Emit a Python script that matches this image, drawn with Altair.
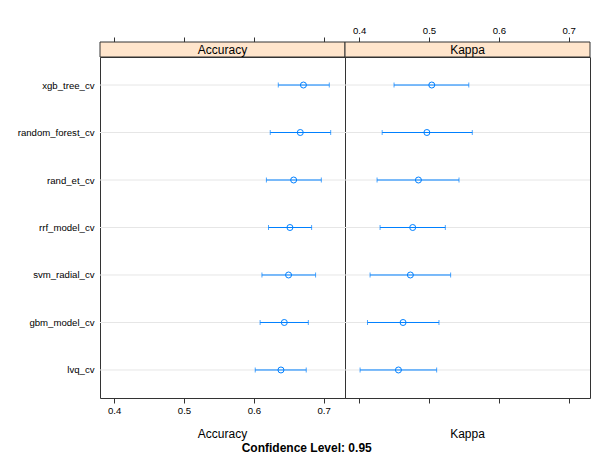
import altair as alt
import pandas as pd

models = ["xgb_tree_cv", "random_forest_cv", "rand_et_cv", "rrf_model_cv",
          "svm_radial_cv", "gbm_model_cv", "lvq_cv"]
metrics = ["Accuracy", "Kappa"]

acc_est = [0.671, 0.6665, 0.657, 0.6517, 0.6497, 0.6436, 0.6388]
acc_lo = [0.635, 0.6235, 0.618, 0.621, 0.6116, 0.609, 0.602]
acc_hi = [0.708, 0.710, 0.6966, 0.6827, 0.6884, 0.678, 0.675]

kap_est = [0.504, 0.497, 0.4849, 0.4767, 0.4734, 0.4629, 0.4563]
kap_lo = [0.450, 0.433, 0.4257, 0.430, 0.4157, 0.412, 0.4014]
kap_hi = [0.557, 0.562, 0.543, 0.5234, 0.531, 0.5143, 0.511]

tick_values = [0.4, 0.5, 0.6, 0.7]
x_domain = [0.3798, 0.7305]
footer = "Confidence Level: 0.95"

W, H = 245, 341
BLUE = "#0080ff"
FONT = "Liberation Sans"
BORDER = "#333333"
one = alt.Data(values=[{"k": 1}])


def panel(metric, est, lo, hi, show_y, bottom_labels, top_labels, footer_text=None):
    df = pd.DataFrame({"model": models, "est": est, "lo": lo, "hi": hi})
    base = alt.Chart(df)
    xs = alt.Scale(domain=x_domain, nice=False, zero=False)
    yaxis = alt.Axis(title=None, ticks=False, domain=False, grid=False,
                     labelPadding=6, labelFontSize=9.6, labelFont=FONT,
                     labelColor="black") if show_y else None
    y_enc = alt.Y("model:N", sort=models,
                  scale=alt.Scale(type="point", padding=0.59), axis=yaxis)
    common = dict(values=tick_values, format=".1f", title=None, grid=False,
                  domain=False, tickSize=5, tickColor=BORDER, labelFontSize=9.6,
                  labelFont=FONT, labelColor="black", labelPadding=2,
                  labelFlush=False)
    bottom_axis = alt.Axis(orient="bottom", labels=bottom_labels, **common)
    top_axis = alt.Axis(orient="top", offset=15, labels=top_labels, **common)

    grid = base.mark_rule(color="#e6e6e6", strokeWidth=1).encode(
        y=y_enc, x=alt.value(0), x2=alt.value(W))
    bar = base.mark_rule(color=BLUE, strokeWidth=1).encode(
        x=alt.X("lo:Q", scale=xs, axis=bottom_axis), x2="hi:Q", y=y_enc)
    cap_lo = base.mark_tick(color=BLUE, size=5, thickness=1).encode(
        x=alt.X("lo:Q", scale=xs, axis=None), y=y_enc)
    cap_hi = base.mark_tick(color=BLUE, size=5, thickness=1).encode(
        x=alt.X("hi:Q", scale=xs, axis=None), y=y_enc)
    pts = base.mark_point(shape="circle", filled=False, color=BLUE, size=36,
                          strokeWidth=1, opacity=1).encode(
        x=alt.X("est:Q", scale=xs, axis=top_axis), y=y_enc)
    strip = alt.Chart(one).mark_rect(fill="#ffe5cc", stroke=BORDER, strokeWidth=1).encode(
        x=alt.value(0), x2=alt.value(W), y=alt.value(-15), y2=alt.value(0))
    strip_txt = alt.Chart(one).mark_text(text=metric, fontSize=12, font=FONT,
                                         baseline="middle", color="black").encode(
        x=alt.value(W / 2), y=alt.value(-7))
    xtitle = alt.Chart(one).mark_text(text=metric, fontSize=12, font=FONT,
                                      baseline="middle", color="black").encode(
        x=alt.value(W / 2), y=alt.value(H + 36))
    layers = [grid, bar, cap_lo, cap_hi, pts, strip, strip_txt, xtitle]
    if footer_text:
        foot = alt.Chart(one).mark_text(text=footer_text, fontSize=12, font=FONT,
                                        fontWeight="bold", baseline="middle",
                                        color="black").encode(
            x=alt.value(206.7), y=alt.value(H + 50))
        layers.append(foot)
    return alt.layer(*layers).resolve_axis(x="independent").properties(width=W, height=H)


left = panel(metrics[0], acc_est, acc_lo, acc_hi, True, True, False, footer)
right = panel(metrics[1], kap_est, kap_lo, kap_hi, False, False, True)

chart = alt.hconcat(left, right, spacing=0, bounds="flush").properties(
    padding={"left": 8, "top": 16, "right": 5, "bottom": 5}
).configure_view(stroke=BORDER, strokeWidth=1)

chart.save("out.html", embed_options={"renderer": "svg", "actions": False})
